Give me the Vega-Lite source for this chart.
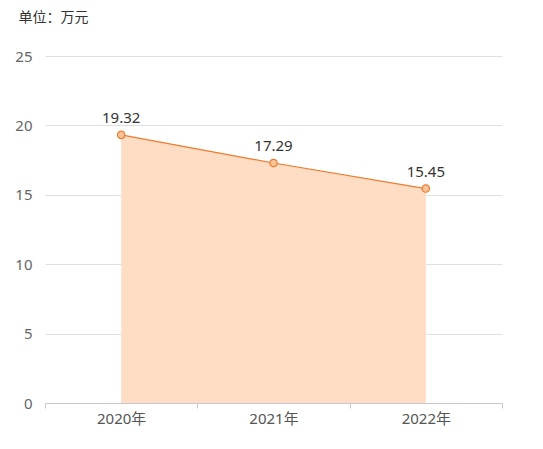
{
  "$schema": "https://vega.github.io/schema/vega-lite/v6.json",
  "width": 457,
  "height": 347,
  "autosize": "none",
  "padding": {"left": 45, "top": 56, "right": 41, "bottom": 46},
  "background": "white",
  "config": {"view": {"stroke": null}, "font": "Noto Sans, Noto Sans CJK SC"},
  "data": {
    "values": [
      {"year": "2020年", "value": 19.32},
      {"year": "2021年", "value": 17.29},
      {"year": "2022年", "value": 15.45}
    ]
  },
  "encoding": {
    "x": {
      "field": "year",
      "type": "ordinal",
      "bandPosition": 0.5,
      "scale": {"type": "band", "paddingInner": 0, "paddingOuter": 0},
      "axis": {
        "title": null,
        "labelAngle": 0,
        "domainColor": "#C3CAD3",
        "tickColor": "#C3CAD3",
        "tickSize": 5,
        "tickBand": "extent",
        "labelPadding": 3,
        "labelFontSize": 15,
        "labelColor": "#555555",
        "grid": false
      }
    },
    "y": {
      "field": "value",
      "type": "quantitative",
      "scale": {"domain": [0, 25], "nice": false},
      "axis": {
        "values": [0, 5, 10, 15, 20, 25],
        "title": "单位：万元",
        "titleFont": "Noto Sans CJK SC",
        "titleAngle": 0,
        "titleAlign": "left",
        "titleBaseline": "middle",
        "titleX": -27,
        "titleY": -39,
        "titleFontWeight": "normal",
        "titleFontSize": 14,
        "titleColor": "#333333",
        "domain": false,
        "ticks": false,
        "gridColor": "#E0E0E0",
        "labelPadding": 13,
        "labelFontSize": 15,
        "labelColor": "#666666"
      }
    }
  },
  "layer": [
    {"mark": {"type": "area", "color": "#FFDCC4", "opacity": 1}},
    {"mark": {"type": "line", "color": "#F07A2A", "strokeWidth": 1.2}},
    {
      "mark": {
        "type": "point",
        "shape": "circle",
        "filled": true,
        "fill": "#FDC49C",
        "stroke": "#F07A2A",
        "strokeWidth": 1.2,
        "size": 55,
        "opacity": 1
      }
    },
    {
      "mark": {"type": "text", "dy": -17, "fontSize": 15, "color": "#333333"},
      "encoding": {"text": {"field": "value", "type": "quantitative", "format": ".2f"}}
    }
  ]
}
